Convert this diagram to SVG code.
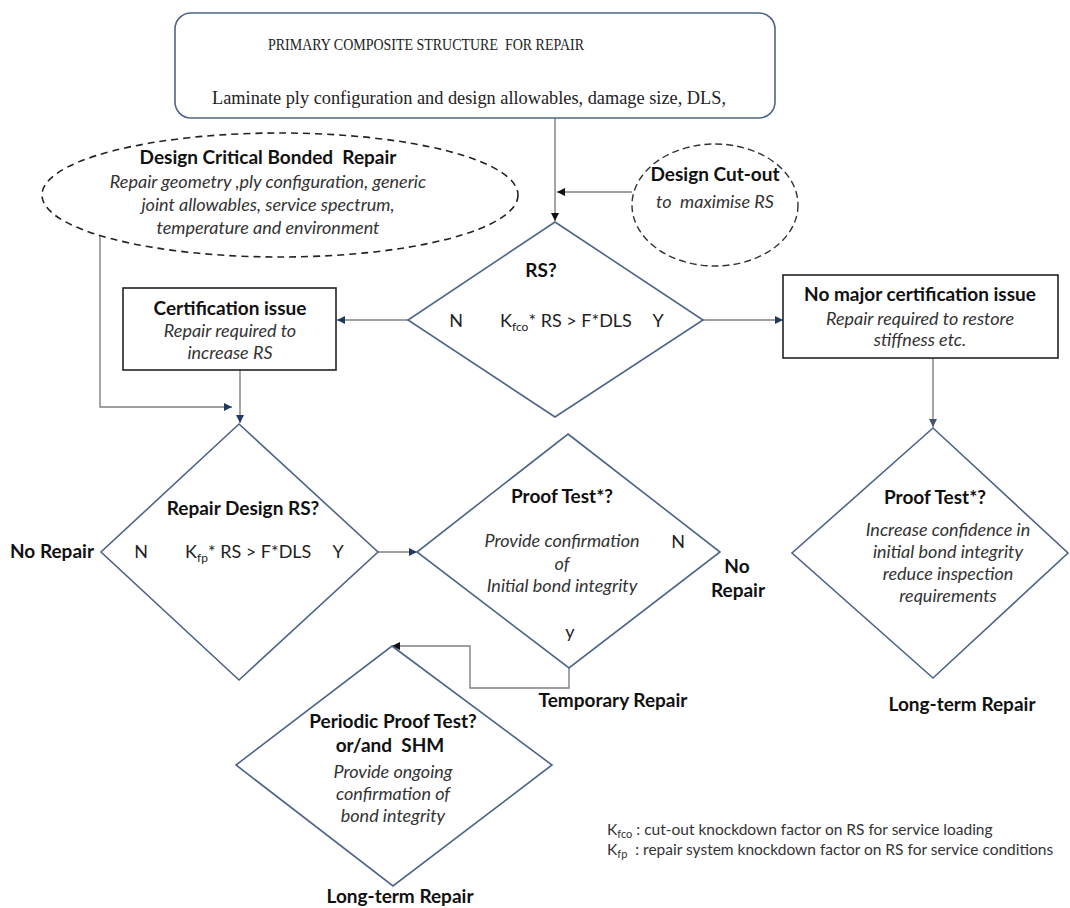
<svg xmlns="http://www.w3.org/2000/svg" width="1070" height="908" viewBox="0 0 1070 908">
<defs>
<style>
.dia{fill:#fff;stroke:#4e6488;stroke-width:1.6}
.box{fill:#fff;stroke:#222;stroke-width:1.6}
.top{fill:#fff;stroke:#4e6488;stroke-width:1.6}
.ell{fill:none;stroke:#222;stroke-width:1.6;stroke-dasharray:7 5}
.cir{fill:none;stroke:#333;stroke-width:1.4;stroke-dasharray:7 4}
.con{fill:none;stroke:#808080;stroke-width:1.4}
.b{font-family:Lato,"Liberation Sans",sans-serif;font-weight:bold;font-size:19px;fill:#111;text-anchor:middle;white-space:pre}
.i{font-family:Lato,"Liberation Sans",sans-serif;font-style:italic;font-size:18px;fill:#333;text-anchor:middle;white-space:pre}
.r{font-family:Lato,"Liberation Sans",sans-serif;font-size:18px;fill:#222;white-space:pre}
.s{font-family:"Liberation Serif",serif;fill:#222;white-space:pre}
.lg{font-family:Lato,"Liberation Sans",sans-serif;font-size:15.5px;fill:#333;white-space:pre}
</style>
<marker id="aN" viewBox="0 0 10 10" refX="10" refY="5" markerWidth="9" markerHeight="8" markerUnits="userSpaceOnUse" orient="auto"><path d="M0,0L10,5L0,10z" fill="#1f3864"/></marker>
<marker id="aK" viewBox="0 0 10 10" refX="10" refY="5" markerWidth="9" markerHeight="8" markerUnits="userSpaceOnUse" orient="auto"><path d="M0,0L10,5L0,10z" fill="#111"/></marker>
<marker id="aS" viewBox="0 0 10 10" refX="10" refY="5" markerWidth="9" markerHeight="8" markerUnits="userSpaceOnUse" orient="auto"><path d="M0,0L10,5L0,10z" fill="#44546a"/></marker>
</defs>

<g id="connectors">
<path class="con" d="M555,118V221" marker-end="url(#aK)"/>
<path class="con" d="M632,192H557" marker-end="url(#aK)"/>
<path class="con" d="M408,320H337" marker-end="url(#aN)"/>
<path class="con" d="M703,320H783" marker-end="url(#aN)"/>
<path class="con" d="M240,370V423" marker-end="url(#aN)"/>
<path class="con" d="M100,236V407H232" marker-end="url(#aN)"/>
<path class="con" d="M378,552H417" marker-end="url(#aN)"/>
<path class="con" d="M933,358V427" marker-end="url(#aS)"/>
<path class="con" d="M569,668V688H470V646H392" marker-end="url(#aK)"/>
</g>

<g id="primary">
<rect class="top" x="175" y="13" width="600" height="105" rx="16"/>
<text class="s" x="268" y="50" font-size="16" textLength="316" lengthAdjust="spacingAndGlyphs">PRIMARY COMPOSITE STRUCTURE  FOR REPAIR</text>
<text class="s" x="212" y="104" font-size="18" textLength="514" lengthAdjust="spacingAndGlyphs">Laminate ply configuration and design allowables, damage size, DLS,</text>
</g>

<g id="design-critical">
<ellipse class="ell" cx="280" cy="195" rx="238" ry="62"/>
<text class="b" x="268" y="164">Design Critical Bonded  Repair</text>
<text class="i" x="268" y="188">Repair geometry ,ply configuration, generic</text>
<text class="i" x="268" y="211">joint allowables, service spectrum,</text>
<text class="i" x="268" y="234">temperature and environment</text>
</g>

<g id="cutout">
<ellipse class="cir" cx="715" cy="205" rx="83" ry="61"/>
<text class="b" x="715" y="181">Design Cut-out</text>
<text class="i" x="715" y="208">to  maximise RS</text>
</g>

<g id="rs">
<polygon class="dia" points="555,222 703,320 555,417 408,320"/>
<text class="b" x="541" y="277">RS?</text>
<text class="r" x="456" y="327" text-anchor="middle">N</text>
<text class="r" x="500" y="327">K<tspan font-size="12" dy="4">fco</tspan><tspan dy="-4">* RS &gt; F*DLS</tspan></text>
<text class="r" x="658" y="327" text-anchor="middle">Y</text>
</g>

<g id="cert-issue">
<rect class="box" x="123" y="288" width="213" height="82"/>
<text class="b" x="230" y="315">Certification issue</text>
<text class="i" x="230" y="337">Repair required to</text>
<text class="i" x="230" y="359">increase RS</text>
</g>

<g id="no-major">
<rect class="box" x="783" y="275" width="275" height="83"/>
<text class="b" x="920" y="301">No major certification issue</text>
<text class="i" x="920" y="325">Repair required to restore</text>
<text class="i" x="920" y="346">stiffness etc.</text>
</g>

<g id="repair-design">
<polygon class="dia" points="239,424 378,552 239,680 101,552"/>
<text class="b" x="243" y="515">Repair Design RS?</text>
<text class="r" x="141" y="558" text-anchor="middle">N</text>
<text class="r" x="185" y="558">K<tspan font-size="12" dy="4">fp</tspan><tspan dy="-4">* RS &gt; F*DLS</tspan></text>
<text class="r" x="338" y="558" text-anchor="middle">Y</text>
</g>

<g id="no-repair-left">
<text class="b" x="52" y="558">No Repair</text>
</g>

<g id="proof-test">
<polygon class="dia" points="568,434 720,552 569,668 417,552"/>
<text class="b" x="562" y="503">Proof Test*?</text>
<text class="i" x="562" y="547">Provide confirmation</text>
<text class="i" x="562" y="570">of</text>
<text class="i" x="562" y="592">Initial bond integrity</text>
<text class="r" x="678" y="548" text-anchor="middle">N</text>
<text class="r" x="570" y="638" text-anchor="middle">y</text>
</g>

<g id="no-repair-right">
<text class="b" x="737" y="573">No</text>
<text class="b" x="738" y="597">Repair</text>
</g>

<g id="temporary">
<text class="b" x="613" y="707">Temporary Repair</text>
</g>

<g id="proof-test-2">
<polygon class="dia" points="933,428 1068,553 933,678 792,553"/>
<text class="b" x="935" y="504">Proof Test*?</text>
<text class="i" x="948" y="536">Increase confidence in</text>
<text class="i" x="948" y="558">initial bond integrity</text>
<text class="i" x="948" y="580">reduce inspection</text>
<text class="i" x="948" y="602">requirements</text>
</g>

<g id="long-term-right">
<text class="b" x="962" y="711">Long-term Repair</text>
</g>

<g id="periodic">
<polygon class="dia" points="392,646 552,765 393,886 236,765"/>
<text class="b" x="393" y="728">Periodic Proof Test?</text>
<text class="b" x="390" y="752">or/and  SHM</text>
<text class="i" x="393" y="778">Provide ongoing</text>
<text class="i" x="393" y="800">confirmation of</text>
<text class="i" x="393" y="822">bond integrity</text>
</g>

<g id="long-term-bottom">
<text class="b" x="400" y="903">Long-term Repair</text>
</g>

<g id="legend">
<text class="lg" x="607" y="835">K<tspan font-size="11" dy="3">fco</tspan><tspan dy="-3"> : cut-out knockdown factor on RS for service loading</tspan></text>
<text class="lg" x="607" y="855">K<tspan font-size="11" dy="3">fp</tspan><tspan dy="-3">  : repair system knockdown factor on RS for service conditions</tspan></text>
</g>
</svg>
